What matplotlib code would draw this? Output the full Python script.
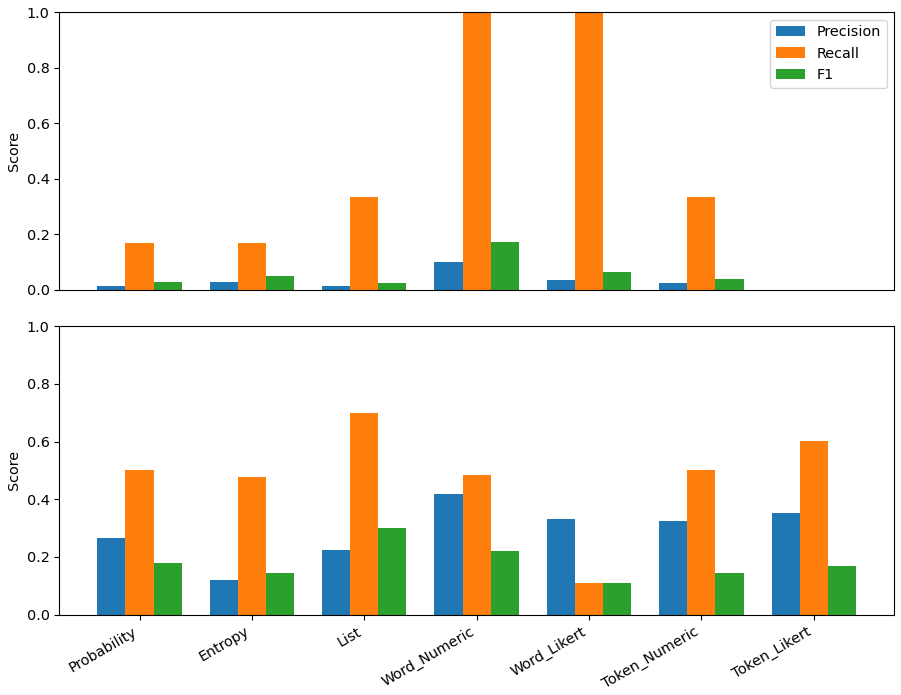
import matplotlib
matplotlib.use("Agg")
import matplotlib.pyplot as plt
import numpy as np

plt.rcParams["font.size"] = 10.4

methods = ["Probability", "Entropy", "List", "Word_Numeric", "Word_Likert", "Token_Numeric", "Token_Likert"]

top_precision = [0.014, 0.029, 0.013, 0.099, 0.034, 0.023, 0.0]
top_recall = [0.167, 0.167, 0.333, 1.0, 1.0, 0.333, 0.0]
top_f1 = [0.026, 0.048, 0.025, 0.172, 0.064, 0.040, 0.0]

bot_precision = [0.266, 0.119, 0.225, 0.417, 0.333, 0.325, 0.352]
bot_recall = [0.500, 0.477, 0.700, 0.484, 0.111, 0.500, 0.602]
bot_f1 = [0.178, 0.143, 0.301, 0.222, 0.111, 0.143, 0.169]

fig = plt.figure(figsize=(9.01, 6.95), dpi=100)
ax1 = fig.add_axes([0.066, 0.5832, 0.926, 0.3991])
ax2 = fig.add_axes([0.066, 0.1155, 0.926, 0.4154])

x = np.arange(len(methods))
w = 0.25
colors = ["#1f77b4", "#ff7f0e", "#2ca02c"]

for ax, (p, r, f) in [(ax1, (top_precision, top_recall, top_f1)),
                      (ax2, (bot_precision, bot_recall, bot_f1))]:
    ax.bar(x - w, p, w, label="Precision", color=colors[0])
    ax.bar(x, r, w, label="Recall", color=colors[1])
    ax.bar(x + w, f, w, label="F1", color=colors[2])
    ax.set_ylim(0, 1.0)
    ax.set_ylabel("Score")

ax1.set_xticks([])
ax1.legend(loc="upper right")
ax2.set_xticks(x)
ax2.set_xticklabels(methods, rotation=30, ha="right")
ax1.set_xlim(ax2.get_xlim())

fig.savefig("out.png", dpi=100)
